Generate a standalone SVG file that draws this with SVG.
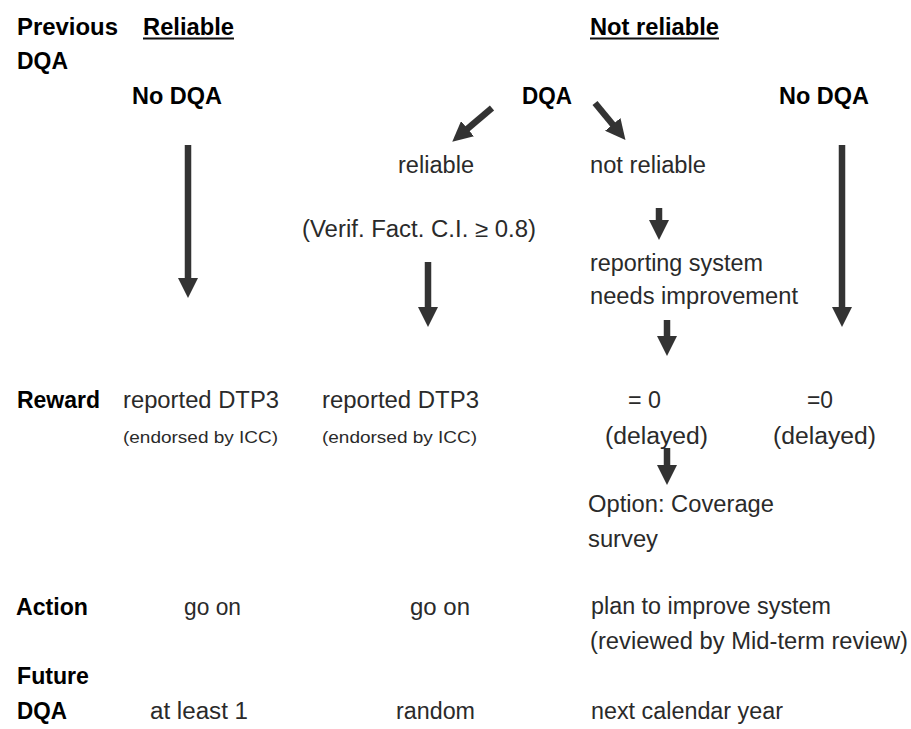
<svg xmlns="http://www.w3.org/2000/svg" width="911" height="729" viewBox="0 0 911 729">
<defs>
<style>
text{font-family:"Liberation Sans",Arial,sans-serif;font-size:23px;fill:#2a2a2a}
.b{font-weight:bold;fill:#000}
.s{font-size:16px}
.u{stroke:#111;stroke-width:2}
.a{stroke:#333;stroke-width:6.5;fill:none;marker-end:url(#ah)}
</style>
<marker id="ah" markerUnits="userSpaceOnUse" markerWidth="20" markerHeight="20" refX="2" refY="10" orient="auto" viewBox="0 0 20 20">
<path d="M0,0 L20,10 L0,20 z" fill="#333"/>
</marker>
</defs>
<rect width="911" height="729" fill="#fff"/>
<g id="row-labels">
<text class="b" x="17" y="35" textLength="101" lengthAdjust="spacingAndGlyphs">Previous</text>
<text class="b" x="17" y="69" textLength="51" lengthAdjust="spacingAndGlyphs">DQA</text>
<text class="b" x="17" y="408" textLength="83" lengthAdjust="spacingAndGlyphs">Reward</text>
<text class="b" x="16" y="615" textLength="72" lengthAdjust="spacingAndGlyphs">Action</text>
<text class="b" x="17" y="684" textLength="72" lengthAdjust="spacingAndGlyphs">Future</text>
<text class="b" x="17" y="719" textLength="50" lengthAdjust="spacingAndGlyphs">DQA</text>
</g>
<g id="hdr-reliable">
<text class="b" x="143" y="35" textLength="91" lengthAdjust="spacingAndGlyphs">Reliable</text>
<line class="u" x1="143" y1="38.5" x2="234" y2="38.5"/>
</g>
<g id="hdr-notreliable">
<text class="b" x="590" y="35" textLength="129" lengthAdjust="spacingAndGlyphs">Not reliable</text>
<line class="u" x1="590" y1="38.5" x2="719" y2="38.5"/>
</g>
<g id="nodqa-left"><text class="b" x="132" y="104" textLength="90" lengthAdjust="spacingAndGlyphs">No DQA</text></g>
<g id="dqa"><text class="b" x="522" y="104" textLength="50" lengthAdjust="spacingAndGlyphs">DQA</text></g>
<g id="nodqa-right"><text class="b" x="779" y="104" textLength="90" lengthAdjust="spacingAndGlyphs">No DQA</text></g>
<g id="reliable"><text x="398" y="173" textLength="76" lengthAdjust="spacingAndGlyphs">reliable</text></g>
<g id="verif"><text x="302" y="237" textLength="234" lengthAdjust="spacingAndGlyphs">(Verif. Fact. C.I. ≥ 0.8)</text></g>
<g id="notreliable"><text x="590" y="173" textLength="116" lengthAdjust="spacingAndGlyphs">not reliable</text></g>
<g id="reporting">
<text x="590" y="271" textLength="173" lengthAdjust="spacingAndGlyphs">reporting system</text>
<text x="590" y="304" textLength="208" lengthAdjust="spacingAndGlyphs">needs improvement</text>
</g>
<g id="reward-1">
<text x="123" y="408" textLength="156" lengthAdjust="spacingAndGlyphs">reported DTP3</text>
<text class="s" x="123" y="443" textLength="155" lengthAdjust="spacingAndGlyphs">(endorsed by ICC)</text>
</g>
<g id="reward-2">
<text x="322" y="408" textLength="157" lengthAdjust="spacingAndGlyphs">reported DTP3</text>
<text class="s" x="322" y="443" textLength="155" lengthAdjust="spacingAndGlyphs">(endorsed by ICC)</text>
</g>
<g id="reward-3">
<text x="628" y="408" textLength="33" lengthAdjust="spacingAndGlyphs">= 0</text>
<text x="605" y="444" textLength="103" lengthAdjust="spacingAndGlyphs">(delayed)</text>
</g>
<g id="reward-4">
<text x="807" y="408" textLength="26" lengthAdjust="spacingAndGlyphs">=0</text>
<text x="773" y="444" textLength="103" lengthAdjust="spacingAndGlyphs">(delayed)</text>
</g>
<g id="option">
<text x="588" y="512" textLength="186" lengthAdjust="spacingAndGlyphs">Option: Coverage</text>
<text x="588" y="547" textLength="70" lengthAdjust="spacingAndGlyphs">survey</text>
</g>
<g id="action-1"><text x="184" y="615" textLength="57" lengthAdjust="spacingAndGlyphs">go on</text></g>
<g id="action-2"><text x="410" y="615" textLength="60" lengthAdjust="spacingAndGlyphs">go on</text></g>
<g id="action-3">
<text x="591" y="614" textLength="240" lengthAdjust="spacingAndGlyphs">plan to improve system</text>
<text x="590" y="649" textLength="318" lengthAdjust="spacingAndGlyphs">(reviewed by Mid-term review)</text>
</g>
<g id="future-1"><text x="150" y="719" textLength="98" lengthAdjust="spacingAndGlyphs">at least 1</text></g>
<g id="future-2"><text x="396" y="719" textLength="79" lengthAdjust="spacingAndGlyphs">random</text></g>
<g id="future-3"><text x="591" y="719" textLength="192" lengthAdjust="spacingAndGlyphs">next calendar year</text></g>
<g id="connectors">
<line class="a" x1="188" y1="145" x2="188" y2="280"/>
<line class="a" x1="428" y1="262" x2="428" y2="309"/>
<line class="a" x1="659" y1="208" x2="659" y2="222"/>
<line class="a" x1="667" y1="320" x2="667" y2="338"/>
<line class="a" x1="842" y1="145" x2="842" y2="309"/>
<line class="a" x1="667" y1="448" x2="667" y2="467"/>
<line class="a" x1="492" y1="108" x2="466" y2="130"/>
<line class="a" x1="595" y1="103" x2="614" y2="126"/>
</g>
</svg>
